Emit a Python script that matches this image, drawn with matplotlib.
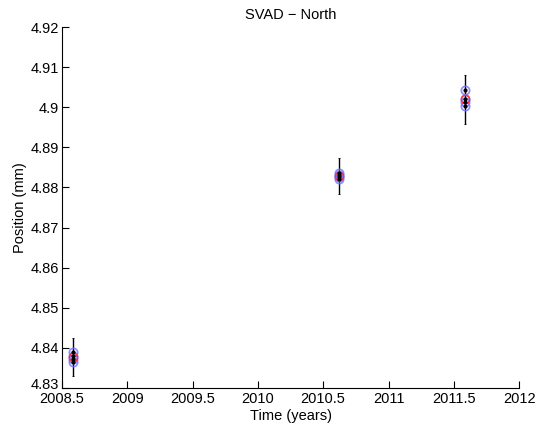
import matplotlib
matplotlib.use('Agg')
import matplotlib.pyplot as plt
import matplotlib.transforms as mtransforms
from matplotlib.ticker import FormatStrFormatter

plt.rcParams['font.family'] = ['Liberation Sans', 'DejaVu Sans']

# epochs (years) and daily position solutions (mm)
t1 = [2008.584, 2008.584, 2008.584, 2008.584]
y1 = [4.8390, 4.8381, 4.8373, 4.8366]
t2 = [2010.620, 2010.620, 2010.620, 2010.620]
y2 = [4.8836, 4.8830, 4.8826, 4.8822]
t3 = [2011.586, 2011.586, 2011.586, 2011.586]
y3 = [4.9042, 4.9020, 4.9012, 4.9003]

# mean position and error bar half-width per epoch
t_mean = [2008.584, 2010.620, 2011.586]
y_mean = [4.8377, 4.8829, 4.9020]
err = [0.0047, 0.0045, 0.0061]

xticks = [2008.5, 2009, 2009.5, 2010, 2010.5, 2011, 2011.5, 2012]
yticks = [4.83, 4.84, 4.85, 4.86, 4.87, 4.88, 4.89, 4.9, 4.91, 4.92]

fig = plt.figure(figsize=(5.38, 4.29), dpi=100)
ax = fig.add_axes([0.115, 0.0956, 0.85, 0.8414])

ax.errorbar(t_mean, y_mean, yerr=err, fmt='none', ecolor='black',
            elinewidth=1.0, capsize=1, capthick=0.6, zorder=1)
for t, y in [(t1, y1), (t2, y2), (t3, y3)]:
    ax.plot(t, y, 'o', mfc='none', mec='#7070ff', ms=6, mew=1.2, alpha=0.8, zorder=2)
    ax.plot(t, y, '.', color='black', ms=4, zorder=4)
ax.plot(t_mean, y_mean, 'o', mfc='none', mec='#ff3030', ms=6, mew=1.0, zorder=3)

ax.set_xlim(2008.5, 2012)
ax.set_ylim(4.83, 4.92)
ax.set_xticks(xticks)
ax.set_yticks(yticks)
ax.xaxis.set_major_formatter(FormatStrFormatter('%g'))
ax.yaxis.set_major_formatter(FormatStrFormatter('%g'))
ax.tick_params(direction='in', length=5, width=0.8, labelsize=10.5)
ax.tick_params(axis='x', pad=3)
ax.tick_params(axis='y', pad=2)
ax.spines['top'].set_visible(False)
ax.spines['right'].set_visible(False)
ax.set_xlabel('Time (years)', fontsize=10.5, labelpad=2)
ax.set_ylabel('Position (mm)', fontsize=10.5, labelpad=3)
ax.set_title('SVAD \u2212 North', fontsize=10.5, pad=6)

# lift the bottom y label a little, as in the original
fig.canvas.draw()
lab = ax.get_yticklabels()[0]
lab.set_transform(lab.get_transform() + mtransforms.ScaledTranslation(0, 3 / 72, fig.dpi_scale_trans))

fig.savefig('out.png', dpi=100)
